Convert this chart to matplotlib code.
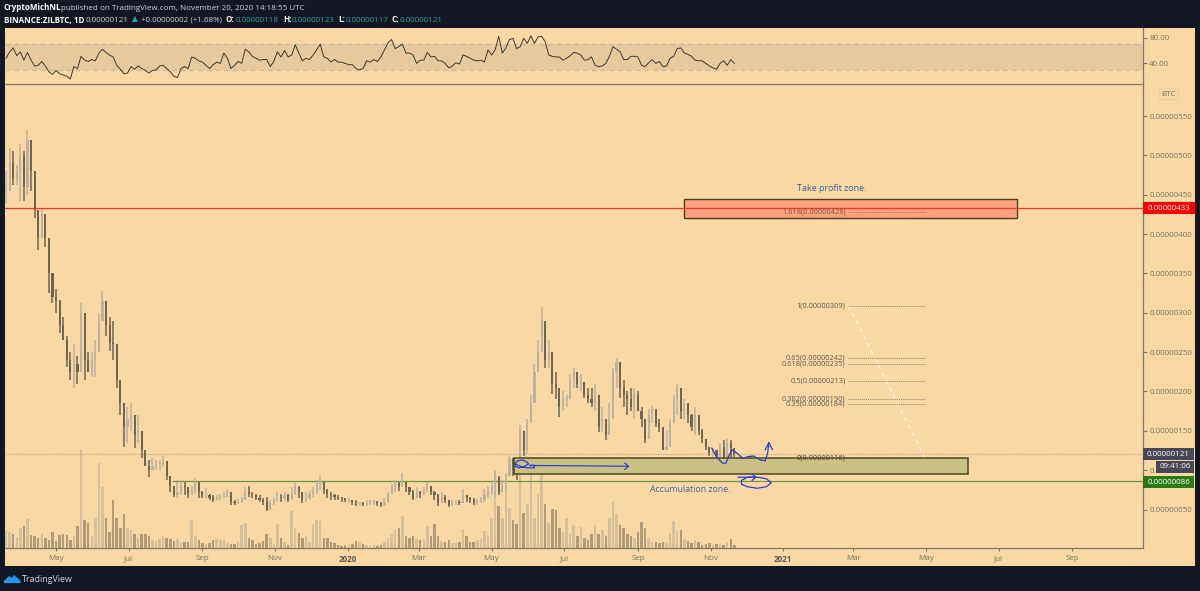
#!/usr/bin/env python3
"""
BINANCE:ZILBTC 1D chart, TradingView screenshot style
RSI pane on top, candles + volume below, values read off the picture
"""

import numpy as np
import pandas as pd
import matplotlib
matplotlib.use('Agg')
import matplotlib.pyplot as plt
import matplotlib.dates as mdates
import matplotlib.ticker as mticker
from matplotlib.patches import Rectangle, Polygon, FancyBboxPatch
from matplotlib.transforms import Affine2D

plt.rcParams['font.family'] = ['Open Sans', 'DejaVu Sans']

# ==================== data ====================
# three-day bars, prices in 1e-8 BTC
closes = [455, 490, 470, 480, 500, 460, 520, 480, 430, 395,
          425, 395, 350, 320, 315, 285, 265, 240, 225, 235,
          225, 300, 240, 225, 240, 250, 290, 315, 285, 262,
          260, 215, 185, 155, 165, 170, 145, 150, 125, 105,
          100, 105, 108, 108, 112, 92, 80, 68, 72, 80,
          78, 70, 75, 85, 72, 68, 68, 65, 62, 65,
          66, 66, 72, 60, 58, 60, 62, 72, 70, 68,
          65, 62, 60, 50, 58, 62, 65, 64, 68, 62,
          70, 78, 72, 62, 65, 70, 72, 82, 85, 75,
          70, 68, 66, 65, 64, 62, 62, 60, 58, 58,
          57, 58, 60, 60, 58, 56, 58, 70, 78, 84,
          78, 85, 78, 72, 65, 72, 70, 74, 80, 72,
          68, 58, 66, 62, 56, 58, 60, 58, 68, 64,
          62, 60, 60, 62, 68, 74, 78, 90, 72, 78,
          92, 115, 100, 95, 150, 125, 160, 185, 225, 250,
          290, 240, 250, 210, 205, 180, 190, 190, 215, 225,
          210, 212, 195, 190, 185, 195, 155, 165, 145, 165,
          225, 238, 205, 195, 190, 180, 195, 175, 165, 140,
          170, 178, 160, 155, 125, 130, 160, 190, 205, 175,
          185, 170, 155, 170, 150, 140, 130, 122, 125, 118,
          130, 112, 135, 128, 121]
highs = [480, 510, 505, 488, 515, 505, 532, 505, 470, 425,
         432, 415, 375, 340, 330, 316, 295, 270, 250, 260,
         245, 313, 268, 250, 250, 265, 300, 328, 310, 295,
         290, 240, 205, 175, 180, 185, 165, 170, 140, 125,
         113, 115, 113, 113, 118, 105, 90, 80, 85, 88,
         85, 78, 80, 90, 80, 74, 77, 70, 68, 68,
         70, 72, 76, 72, 62, 63, 66, 78, 80, 72,
         70, 68, 64, 66, 62, 66, 72, 70, 72, 70,
         78, 85, 80, 70, 72, 74, 78, 88, 93, 85,
         76, 72, 70, 68, 66, 65, 64, 62, 62, 60,
         60, 62, 62, 62, 61, 60, 64, 72, 82, 88,
         85, 96, 85, 78, 75, 78, 74, 78, 85, 80,
         74, 70, 72, 68, 62, 62, 62, 62, 76, 68,
         66, 64, 63, 66, 76, 80, 84, 100, 92, 88,
         96, 118, 112, 105, 157, 150, 165, 195, 235, 265,
         307, 275, 265, 245, 225, 205, 200, 195, 222, 230,
         225, 222, 205, 205, 205, 210, 180, 180, 165, 185,
         230, 242, 227, 215, 200, 205, 205, 200, 180, 155,
         178, 182, 175, 165, 155, 150, 165, 195, 210, 200,
         190, 185, 172, 180, 165, 152, 140, 128, 128, 125,
         135, 138, 140, 138, 123]
lows = [440, 462, 462, 462, 442, 442, 450, 455, 420, 380,
        405, 383, 325, 312, 300, 274, 265, 231, 215, 205,
        210, 250, 215, 225, 218, 218, 265, 290, 270, 252,
        240, 205, 170, 130, 135, 150, 128, 135, 115, 105,
        91, 100, 100, 100, 104, 88, 72, 66, 64, 68,
        68, 65, 68, 70, 65, 64, 65, 62, 60, 62,
        62, 64, 66, 56, 56, 57, 58, 62, 66, 64,
        62, 60, 56, 48, 52, 56, 60, 60, 62, 60,
        64, 68, 64, 58, 60, 62, 66, 70, 75, 70,
        64, 62, 62, 62, 60, 60, 58, 56, 55, 54,
        54, 55, 56, 56, 54, 53, 54, 58, 70, 72,
        74, 78, 72, 68, 62, 66, 64, 68, 72, 68,
        62, 55, 58, 58, 53, 54, 56, 56, 62, 60,
        58, 56, 56, 58, 60, 64, 68, 66, 68, 72,
        74, 96, 92, 88, 110, 118, 120, 160, 195, 225,
        255, 230, 230, 197, 190, 168, 175, 180, 195, 205,
        205, 200, 192, 185, 180, 175, 148, 148, 138, 155,
        190, 205, 192, 180, 170, 175, 165, 175, 155, 135,
        150, 160, 155, 148, 125, 125, 140, 165, 170, 165,
        165, 160, 150, 145, 145, 135, 125, 118, 117, 115,
        115, 112, 118, 115, 117]
# relative volume, same bars
volumes = [17, 16, 14, 11, 20, 22, 29, 13, 12, 10,
           14, 10, 8, 16, 7, 13, 14, 13, 8, 12,
           22, 99, 28, 25, 12, 30, 85, 61, 30, 16,
           48, 30, 20, 34, 20, 18, 14, 10, 14, 14,
           12, 8, 7, 9, 12, 10, 9, 7, 9, 6,
           6, 6, 28, 12, 8, 5, 4, 5, 8, 9,
           8, 8, 5, 4, 4, 6, 23, 25, 10, 8,
           4, 5, 7, 14, 10, 4, 24, 10, 6, 3,
           37, 20, 15, 10, 12, 6, 24, 28, 27, 10,
           10, 6, 5, 3, 2, 3, 3, 4, 7, 6,
           4, 3, 2, 3, 2, 3, 6, 10, 14, 18,
           20, 32, 12, 10, 12, 9, 8, 9, 22, 12,
           24, 12, 7, 6, 8, 5, 5, 6, 19, 12,
           6, 6, 8, 9, 17, 13, 30, 75, 42, 30,
           68, 40, 28, 24, 96, 35, 44, 78, 30, 54,
           74, 44, 25, 39, 38, 20, 16, 30, 14, 23,
           12, 21, 10, 8, 14, 23, 14, 18, 12, 30,
           46, 34, 23, 20, 14, 12, 10, 16, 26, 20,
           10, 6, 6, 5, 6, 5, 15, 27, 17, 18,
           9, 7, 5, 8, 6, 3, 4, 5, 3, 4,
           5, 3, 6, 9, 3]
rsi_values = [48, 58, 64, 52, 58, 45, 57, 45, 36, 37,
              43, 36, 27, 23, 29, 24, 22, 20, 16, 35,
              32, 51, 45, 43, 46, 44, 56, 62, 57, 53,
              50, 37, 31, 24, 25, 35, 31, 36, 32, 29,
              25, 29, 30, 36, 37, 32, 27, 20, 18, 32,
              35, 32, 50, 48, 44, 42, 37, 32, 38, 42,
              40, 56, 48, 32, 37, 43, 40, 62, 58, 51,
              48, 45, 46, 46, 35, 43, 58, 50, 60, 50,
              53, 69, 56, 44, 48, 46, 53, 61, 70, 50,
              48, 42, 46, 42, 42, 40, 38, 38, 32, 30,
              32, 44, 42, 46, 43, 50, 61, 72, 77, 63, 66,
              70, 56, 56, 53, 40, 45, 45, 57, 50, 51,
              44, 44, 40, 33, 36, 41, 39, 53, 51, 48,
              45, 44, 45, 42, 61, 53, 61, 82, 56, 64,
              77, 79, 63, 66, 79, 71, 83, 71, 81, 82,
              74, 53, 51, 50, 50, 45, 48, 52, 57, 56,
              53, 45, 46, 50, 37, 35, 36, 40, 51, 66,
              62, 58, 46, 46, 51, 51, 50, 37, 35, 41,
              46, 40, 43, 35, 36, 48, 51, 63, 64, 56,
              54, 51, 45, 44, 44, 40, 36, 33, 31, 40,
              44, 37, 46, 40]

month_ticks = ['2019-05-01', '2019-07-01', '2019-09-01', '2019-11-01', '2020-01-01',
               '2020-03-01', '2020-05-01', '2020-07-01', '2020-09-01', '2020-11-01',
               '2021-01-01', '2021-03-01', '2021-05-01', '2021-07-01', '2021-09-01']
month_labels = ['May', 'Jul', 'Sep', 'Nov', '2020', 'Mar', 'May', 'Jul', 'Sep', 'Nov',
                '2021', 'Mar', 'May', 'Jul', 'Sep']
price_ticks = [50, 100, 150, 200, 250, 300, 350, 400, 450, 500, 550]

# fibonacci levels drawn on the chart
fib_levels = [428, 309, 242, 235, 213, 190, 184]
fib_labels = ['1.618(0.00000428)', '1(0.00000309)', '0.65(0.00000242)', '0.618(0.00000235)',
              '0.5(0.00000213)', '0.382(0.00000190)', '0.35(0.00000184)']

# hand drawn blue strokes: days after 2019-05-01, price
wave_days = [551, 555, 560, 563, 565, 568, 572, 577, 581, 586, 592, 596, 598, 599]
wave_prices = [128, 117, 109, 109, 117, 126, 122, 115, 117, 118, 113, 112, 122, 135]
loop_days = [573, 588, 581, 576, 576, 581, 589, 597, 601, 597, 590, 588]
loop_prices = [91, 91, 91, 87, 82, 79, 77, 79, 84, 89, 91, 91]
left_days = [386, 388, 392, 396, 397, 393, 389, 386, 386, 390, 396, 402, 402, 398, 481]
left_prices = [109, 112, 113, 110, 108, 104, 103, 105, 108, 105, 103, 103, 106, 106, 105]

# ==================== colours ====================
BG = '#f9d8a5'
DARK = '#131722'
AXIS = '#7d7868'
TICK_TXT = '#77735f'
UP = '#bdb2a0'
DOWN = '#72654f'
VOL_UP = '#d6c09b'
VOL_DOWN = '#b39a78'
BLUE = '#2c3fd0'
NOTE = '#3e619c'
FIB = '#77735f'
SMALL = 5.8

BASE = pd.Timestamp('2019-05-01')
base_num = mdates.date2num(BASE)
bar_dates = mdates.date2num(pd.date_range('2019-03-20', periods=len(closes), freq='3D'))
closes = np.array(closes, dtype=float)
opens = np.r_[closes[0], closes[:-1]]
up = closes >= opens
xlim = (base_num - 42.9, base_num + 913.4)

fig = plt.figure(figsize=(12, 5.91), dpi=100, facecolor=DARK)
# pixel coordinates of the screenshot, for the chrome around the chart
px = Affine2D().scale(1 / 1200, -1 / 591).translate(0, 1) + fig.transFigure


def pane(left, top, right, bottom):
    return [left / 1200, 1 - bottom / 591, (right - left) / 1200, (bottom - top) / 591]


fig.add_artist(Rectangle((5, 28), 1190, 538, transform=px, fc=BG, ec='none', zorder=-5))

# ==================== volume ====================
ax_vol = fig.add_axes(pane(5, 84, 1143, 548))
ax_vol.patch.set_visible(False)
ax_vol.axis('off')
ax_vol.bar(bar_dates, volumes, width=2.1, color=[VOL_UP if u else VOL_DOWN for u in up], lw=0)
ax_vol.set_xlim(xlim)
ax_vol.set_ylim(0, 464)

# ==================== price ====================
ax = fig.add_axes(pane(5, 84, 1143, 548))
ax.patch.set_visible(False)
ax.vlines(bar_dates, lows, highs, colors=[UP if u else DOWN for u in up], lw=1.1, zorder=3)
ax.bar(bar_dates, np.maximum(np.abs(closes - opens), 1.5), bottom=np.minimum(opens, closes), width=1.8,
       color=[UP if u else DOWN for u in up], lw=0, zorder=3)
ax.set_xlim(xlim)
ax.set_ylim(1.1, 590.7)

ax.set_xticks(mdates.date2num(pd.to_datetime(month_ticks)))
ax.set_xticklabels(month_labels, fontsize=SMALL, color=TICK_TXT)
for lab, txt in zip(ax.get_xticklabels(), month_labels):
    if txt.startswith('20'):
        lab.set_color('#5a5748')
        lab.set_fontweight('bold')
ax.yaxis.tick_right()
ax.set_yticks(price_ticks)
ax.yaxis.set_major_formatter(mticker.FuncFormatter(lambda v, p: f'{v / 1e8:.8f}'))
ax.tick_params(axis='y', labelsize=SMALL, labelcolor=TICK_TXT, color=AXIS, length=3, width=0.8, pad=1.5)
ax.tick_params(axis='x', color=AXIS, length=2, width=0.8, pad=3)
for side in ('left', 'top'):
    ax.spines[side].set_visible(False)
for side in ('right', 'bottom'):
    ax.spines[side].set_color(AXIS)
    ax.spines[side].set_linewidth(0.9)

# levels
ax.axhline(433, color='#f5332a', lw=0.9, zorder=6)
ax.axhline(121, color='#c4a981', lw=0.9, ls=(0, (1, 1)), zorder=2)
ax.plot([base_num + 98, xlim[1]], [86, 86], color='#6f9345', lw=0.9, zorder=2)

# zones
ax.add_patch(Rectangle((base_num + 528, 421), 279.6, 23.6, fc='#fda27c', ec='#4e3d2e', lw=1.0, zorder=4))
ax.add_patch(Rectangle((base_num + 385, 95), 381, 21, fc='#c9c084', ec='#4b4828', lw=1.1, zorder=4))

# fib tool
for lvl, lab in zip(fib_levels, fib_labels):
    ax.plot([base_num + 665.5, base_num + 730], [lvl, lvl], color=FIB, lw=0.7, ls=(0, (1, 1)), alpha=0.8, zorder=5)
    ax.text(base_num + 663.5, lvl, lab, ha='right', va='center', fontsize=5.4, color='#5e5a4c', zorder=5)
ax.text(base_num + 663.5, 116, '0(0.00000116)', ha='right', va='center', fontsize=5.4, color='#4e4a3c', zorder=5)
ax.plot([base_num + 666, base_num + 730], [309, 116], color='white', lw=1.0, ls=(0, (3, 3)), alpha=0.75, zorder=3)

ax.text(base_num + 652, 458, 'Take profit zone.', ha='center', va='center', fontsize=6.4, color=NOTE, zorder=6)
ax.text(base_num + 533, 75, 'Accumulation zone.', ha='center', va='center', fontsize=6.3, color=NOTE, zorder=6)

# blue strokes
wave_x = base_num + np.array(wave_days)
loop_x = base_num + np.array(loop_days)
left_x = base_num + np.array(left_days)
ax.plot(wave_x, wave_prices, color=BLUE, lw=0.9, zorder=7)
ax.plot(loop_x, loop_prices, color=BLUE, lw=0.9, zorder=7)
ax.plot(left_x, left_prices, color=BLUE, lw=0.9, zorder=7)
ax.plot(wave_x[-1] + np.array([-3, 0, 3]), wave_prices[-1] + np.array([-9, 0, -9]), color=BLUE, lw=0.9, zorder=7)
ax.plot(loop_x[1] + np.array([-3, 0, -3]), loop_prices[1] + np.array([4, 0, -4]), color=BLUE, lw=0.9, zorder=7)
ax.plot(left_x[-1] + np.array([-3, 0, -3]), left_prices[-1] + np.array([4, 0, -4]), color=BLUE, lw=0.9, zorder=7)

# ==================== RSI ====================
ax_rsi = fig.add_axes(pane(5, 28, 1143, 84))
ax_rsi.patch.set_visible(False)
ax_rsi.axhspan(30, 70, color='#e8c99e', lw=0)
ax_rsi.axhline(70, color='#c9b9a2', lw=0.9, ls=(0, (4, 3)))
ax_rsi.axhline(30, color='#c9b9a2', lw=0.9, ls=(0, (4, 3)))
ax_rsi.plot(bar_dates, rsi_values, color='#3f3a30', lw=0.7)
ax_rsi.set_xlim(xlim)
ax_rsi.set_ylim(8, 95)
ax_rsi.set_xticks([])
ax_rsi.yaxis.tick_right()
ax_rsi.set_yticks([40, 80])
ax_rsi.set_yticklabels(['40.00', '80.00'])
ax_rsi.tick_params(axis='y', labelsize=SMALL, labelcolor=TICK_TXT, color=AXIS, length=3, width=0.8, pad=1.5)
for side in ('left', 'top'):
    ax_rsi.spines[side].set_visible(False)
for side in ('right', 'bottom'):
    ax_rsi.spines[side].set_color(AXIS)
    ax_rsi.spines[side].set_linewidth(0.9)


# ==================== price axis tags ====================
def tag(x0, y0, x1, y1, txt, fc):
    fig.add_artist(Rectangle((x0, y0), x1 - x0, y1 - y0, transform=px, fc=fc, ec='none', zorder=5))
    fig.text((x0 + x1) / 2, (y0 + y1) / 2, txt, transform=px, ha='center', va='center',
             fontsize=SMALL, color='white', zorder=6)


tag(1143, 202, 1195, 214, '0.00000433', '#ff0000')
tag(1143, 448, 1194, 460, '0.00000121', '#474853')
tag(1156, 461, 1194, 473, '09:41:06', '#474853')
tag(1143, 476, 1194, 488, '0.00000086', '#2c7a17')
fig.add_artist(FancyBboxPatch((1160, 89), 18, 10, boxstyle='round,pad=0.5,rounding_size=2', transform=px,
                              fc=BG, ec='#e6cdaa', lw=0.8, zorder=5))
fig.text(1169, 94, 'BTC', transform=px, ha='center', va='center', fontsize=SMALL, color=TICK_TXT, zorder=6)

# ==================== header / footer ====================
LIGHT = '#d1d4dc'
TEAL = '#26a69a'


def head(x, y, txt, color=LIGHT, bold=False, size=5.8):
    fig.text(x, y, txt, transform=px, ha='left', va='center', fontsize=size, color=color,
             fontweight='bold' if bold else 'normal')


head(4, 8, 'CryptoMichNL', 'white', True)
head(61, 8, 'published on TradingView.com, November 20, 2020 14:18:55 UTC')
head(4, 20, 'BINANCE:ZILBTC, 1D', 'white', True)
head(86, 20, '0.00000121')
head(132, 20, '▲', TEAL, size=5.5)
head(141, 20, '+0.00000002 (+1.68%)')
head(226, 20, 'O:', 'white', True)
head(236, 20, '0.00000118', TEAL)
head(283, 20, 'H:', 'white', True)
head(292, 20, '0.00000123', TEAL)
head(338, 20, 'L:', 'white', True)
head(346, 20, '0.00000117', TEAL)
head(392, 20, 'C:', 'white', True)
head(400, 20, '0.00000121', TEAL)

# logo
fig.add_artist(Polygon([(4, 583), (4, 581), (9, 576), (12, 578), (14, 575), (20, 580), (21, 583)],
                       transform=px, fc='#2196f3', ec='none', zorder=5))
head(22, 579, 'TradingView', LIGHT, size=6.4)

fig.savefig('out.png', dpi=100, facecolor=DARK)
